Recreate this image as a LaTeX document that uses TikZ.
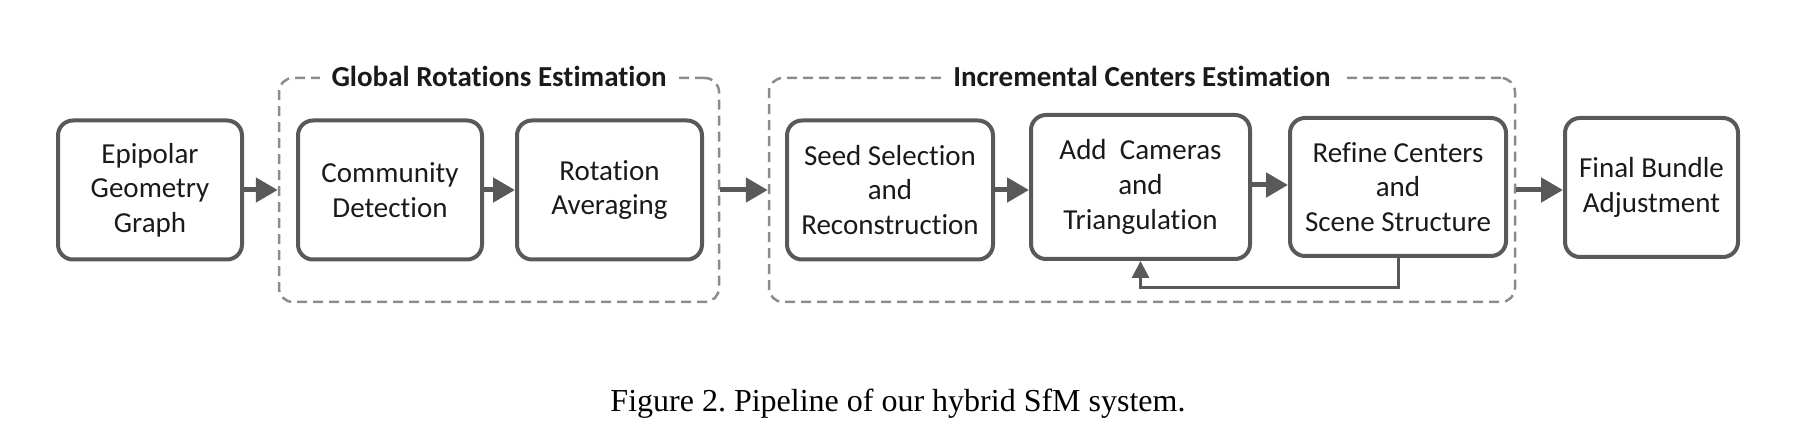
\documentclass[tikz,border=0pt]{standalone}
\usepackage{fontspec}
\setmainfont{Carlito}[RawFeature=-liga]
\newfontfamily\capfont{Liberation Serif}
\usetikzlibrary{arrows.meta,calc}
\definecolor{boxgray}{HTML}{595959}
\definecolor{dashgray}{HTML}{8C8C8C}
\definecolor{txt}{HTML}{1A1A1A}
\frenchspacing
\tikzset{
  stage/.style={draw=boxgray, line width=4pt, rounded corners=15pt, align=center,
    text=txt, font=\fontsize{29}{34.6}\selectfont, inner sep=0pt},
  group/.style={draw=dashgray, line width=2.5pt, rounded corners=14pt,
    dash pattern=on 10pt off 6pt, inner sep=0pt},
  grouptitle/.style={fill=white, text=txt, inner xsep=12pt, inner ysep=2pt,
    font=\fontsize{29}{33}\selectfont\bfseries},
  flow/.style={draw=boxgray, line width=5pt, -{Triangle[length=22pt,width=24pt]}},
  back/.style={draw=boxgray, line width=3pt, -{Triangle[length=17pt,width=17pt]}},
}
\begin{document}
\begin{tikzpicture}[x=1pt,y=-1pt]
\useasboundingbox (0,0) rectangle (1810,443);
% groups
\node[group, minimum width=440pt, minimum height=224pt] (glob) at (499,190) {};
\node[group, minimum width=746pt, minimum height=224pt] (inc) at (1142,190) {};
\node[grouptitle] (globt) at (glob.north) {Global Rotations Estimation};
\node[grouptitle] (inct) at (inc.north) {Incremental Centers Estimation};
% stages
\node[stage, minimum width=184pt, minimum height=139pt] (epi) at (150,190) {Epipolar\\Geometry\\Graph};
\node[stage, minimum width=184pt, minimum height=139pt] (comm) at (390,190) {Community\\Detection};
\node[stage, minimum width=185pt, minimum height=139pt] (rot) at (609.5,190) {Rotation\\Averaging};
\node[stage, minimum width=206pt, minimum height=139pt] (seed) at (890,190) {Seed Selection\\and\\Reconstruction};
\node[stage, minimum width=219pt, minimum height=144pt] (add) at (1140.5,187) {Add~~Cameras\\and\\Triangulation};
\node[stage, minimum width=216pt, minimum height=138pt] (ref) at (1398,187) {Refine Centers\\and\\Scene Structure};
\node[stage, minimum width=173pt, minimum height=139pt] (fin) at (1651.5,187.5) {Final Bundle\\Adjustment};
% connectors
\draw[flow] (epi.east) -- (epi.east -| glob.west);
\draw[flow] (comm.east) -- (rot.west);
\draw[flow] (glob.east) -- (inc.west);
\draw[flow] (seed.east) -- (seed.east -| add.west);
\draw[flow] ($(add.east)+(0,-2)$) -- ($(ref.west)+(0,-2)$);
\draw[flow] (inc.east) -- (inc.east -| fin.west);
\draw[back] (ref.south) -- ++(0,30) -| (add.south);
% caption
\node[anchor=base, font=\capfont\fontsize{32}{38}\selectfont, inner sep=0pt] (cap) at (898,412) {Figure 2. Pipeline of our hybrid SfM system.};
\end{tikzpicture}
\end{document}
